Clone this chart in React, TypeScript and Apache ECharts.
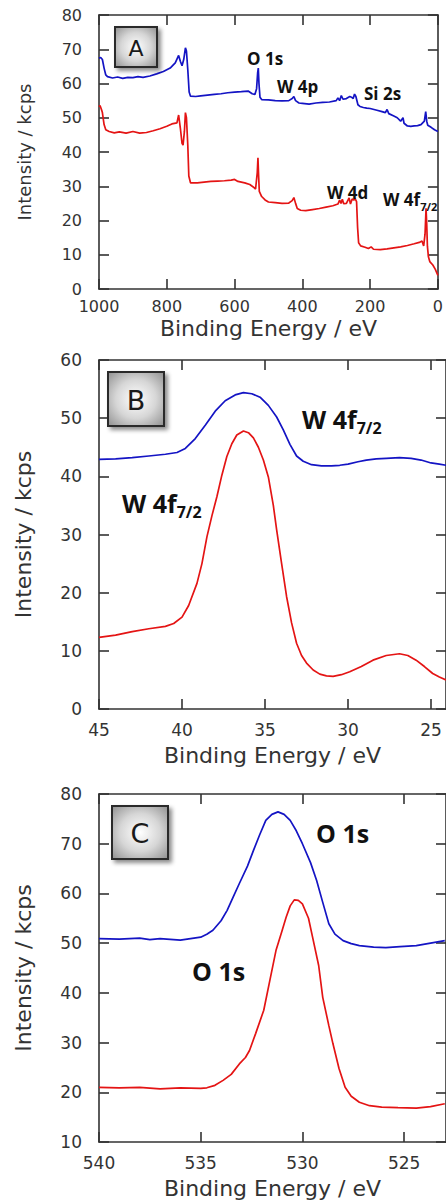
import React, { useEffect, useRef } from "react";
import * as echarts from "echarts";

// ---------- Panel A: survey spectra ----------
const surveyBlueE = [1000, 995, 990, 985, 980, 975, 960, 945, 930, 915, 900, 885, 870, 850, 830, 810, 790, 775, 765, 760, 755, 750, 745, 742, 738, 734, 730, 715, 700, 680, 660, 640, 620, 600, 580, 560, 548, 540, 535, 532, 530, 528, 525, 520, 500, 480, 460, 440, 430, 425, 420, 410, 400, 380, 360, 340, 320, 300, 295, 290, 285, 280, 270, 260, 255, 250, 246, 242, 236, 230, 220, 210, 200, 180, 165, 155, 150, 145, 130, 120, 110, 103, 100, 90, 80, 70, 60, 50, 40, 36, 33, 30, 20, 10, 0];
const surveyBlueI = [67.4, 67.6, 67.0, 64.5, 62.5, 62.0, 61.6, 61.9, 61.5, 61.8, 61.7, 62.0, 61.8, 62.2, 62.8, 63.5, 64.5, 66.0, 68.2, 66.5, 65.2, 67.0, 70.4, 69.5, 64.0, 57.5, 56.3, 56.2, 56.4, 56.6, 56.8, 57.0, 57.3, 57.5, 57.6, 57.8, 57.0, 56.8, 58.5, 63.0, 64.5, 60.0, 56.0, 55.3, 55.2, 55.0, 54.9, 55.0, 55.6, 56.2, 55.0, 54.3, 54.2, 54.0, 54.3, 54.5, 54.6, 55.0, 55.8, 55.0, 56.5, 55.4, 55.6, 56.2, 56.0, 55.6, 56.9, 56.2, 53.8, 53.3, 53.0, 52.8, 52.7, 52.2, 51.8, 51.5, 52.4, 51.2, 50.5, 50.0, 49.0, 50.0, 48.4, 47.6, 47.5, 47.6, 47.7, 48.0, 49.0, 51.8, 49.0, 47.8, 47.2, 46.5, 46.0];
const surveyRedE = [1000, 997, 993, 990, 985, 980, 970, 955, 940, 920, 900, 880, 860, 840, 820, 800, 785, 770, 765, 760, 755, 752, 748, 745, 742, 738, 735, 730, 710, 690, 670, 650, 630, 610, 600, 590, 570, 555, 545, 538, 533, 531, 529, 527, 520, 510, 500, 480, 460, 440, 430, 425, 420, 415, 405, 390, 370, 350, 330, 310, 295, 290, 286, 282, 278, 270, 262, 258, 253, 248, 244, 240, 237, 234, 228, 215, 205, 197, 190, 170, 150, 130, 110, 90, 70, 55, 47, 42, 38, 35, 33, 31, 28, 24, 15, 8, 0];
const surveyRedI = [53.2, 53.6, 52.5, 51.5, 48.0, 46.5, 46.0, 45.6, 45.9, 45.5, 46.0, 45.5, 45.7, 46.2, 46.8, 47.5, 48.2, 48.5, 50.8, 47.0, 42.5, 42.0, 46.0, 51.5, 50.0, 42.0, 33.0, 31.0, 31.0, 31.2, 31.4, 31.5, 31.6, 31.8, 32.0, 31.4, 31.0, 30.5, 29.8, 29.2, 34.0, 38.3, 33.0, 28.5, 27.0, 26.0, 25.4, 25.2, 25.0, 25.1, 25.8, 26.7, 25.0, 23.5, 23.0, 22.9, 23.2, 23.5, 23.9, 24.3, 24.8, 26.0, 25.0, 26.2, 24.9, 25.0, 26.6, 24.8, 26.3, 26.0, 26.3, 25.5, 18.0, 13.5, 12.6, 12.2, 11.8, 12.3, 11.6, 11.5, 11.7, 12.0, 12.3, 12.7, 13.2, 13.6, 14.0, 12.6, 16.0, 23.6, 19.0, 12.5, 9.4, 8.0, 7.0, 5.8, 4.0];

// ---------- Panel B: W 4f ----------
const wBlueE = [45, 44, 43, 42, 41, 40.3, 39.8, 39.2, 38.6, 38.0, 37.4, 36.8, 36.3, 35.8, 35.3, 34.8, 34.3, 33.9, 33.5, 33.1, 32.7, 32.2, 31.6, 31.0, 30.5, 30.0, 29.4, 28.9, 28.3, 27.7, 26.9, 26.2, 25.6, 25.0, 24.5, 24.1];
const wBlueI = [42.9, 43.0, 43.2, 43.5, 43.8, 44.1, 44.8, 46.5, 48.8, 51.2, 53.0, 54.0, 54.4, 54.2, 53.6, 52.2, 50.2, 48.0, 45.5, 43.5, 42.6, 42.0, 41.8, 41.8, 41.9, 42.1, 42.5, 42.8, 43.0, 43.1, 43.2, 43.1, 42.8, 42.3, 42.1, 41.9];
const wRedE = [45, 44, 43, 42, 41, 40.5, 40.0, 39.6, 39.1, 38.8, 38.5, 38.2, 37.9, 37.6, 37.3, 37.0, 36.7, 36.3, 36.0, 35.7, 35.4, 35.1, 34.8, 34.5, 34.3, 34.0, 33.7, 33.4, 33.1, 32.8, 32.5, 32.1, 31.7, 31.3, 30.9, 30.4, 29.9, 29.2, 28.5, 27.7, 26.9, 26.4, 25.9, 25.4, 24.9, 24.5, 24.1];
const wRedI = [12.3, 12.7, 13.3, 13.8, 14.2, 14.7, 15.8, 17.8, 21.6, 25.0, 29.6, 33.2, 36.5, 40.2, 43.4, 45.6, 47.1, 47.8, 47.5, 46.6, 45.0, 42.8, 39.9, 35.0, 30.8, 25.0, 19.3, 14.8, 11.3, 9.2, 7.9, 6.7, 6.0, 5.7, 5.6, 5.9, 6.4, 7.3, 8.4, 9.2, 9.5, 9.2, 8.4, 7.3, 6.1, 5.5, 5.0];

// ---------- Panel C: O 1s ----------
const oBlueE = [540, 539, 538, 537.5, 537, 536, 535, 534.7, 534.4, 534.0, 533.7, 533.4, 533.1, 532.7, 532.4, 532.1, 531.8, 531.5, 531.2, 530.9, 530.6, 530.3, 530.0, 529.6, 529.3, 529.0, 528.7, 528.4, 528.0, 527.6, 527.2, 526.5, 525.9, 525.2, 524.4, 523.7, 523.0];
const oBlueI = [50.9, 50.8, 51.0, 50.7, 50.9, 50.6, 51.2, 51.8, 52.6, 54.5, 56.6, 59.3, 62.0, 65.5, 68.7, 71.8, 74.7, 75.9, 76.4, 75.9, 74.7, 72.6, 70.0, 66.2, 62.6, 58.2, 53.9, 51.8, 50.5, 49.9, 49.5, 49.2, 49.1, 49.3, 49.5, 50.0, 50.5];
const oRedE = [540, 539, 538, 537, 536, 535, 534.7, 534.3, 533.9, 533.5, 533.1, 532.8, 532.6, 532.3, 531.9, 531.6, 531.3, 531.0, 530.8, 530.6, 530.4, 530.2, 530.0, 529.7, 529.5, 529.2, 529.0, 528.7, 528.5, 528.2, 527.9, 527.6, 527.2, 526.7, 526.1, 525.3, 524.4, 523.7, 523.0];
const oRedI = [21.0, 20.9, 21.0, 20.7, 20.9, 20.8, 20.9, 21.4, 22.4, 23.6, 25.7, 27.0, 28.4, 31.8, 36.5, 42.5, 48.5, 52.5, 55.2, 57.5, 58.7, 58.6, 57.9, 55.0, 51.2, 45.5, 39.1, 33.4, 29.8, 24.8, 21.0, 19.2, 18.0, 17.3, 17.0, 16.9, 16.8, 17.1, 17.7];

const xTicksB = [25, 30, 35, 40, 45];
const xTicksC = [525, 530, 535, 540];

const BLUE = "#1414c4";
const RED = "#e41414";
const AXIS = "#333";
const TICKFONT = "DejaVu Sans";
const LABELFONT = "'Open Sans', 'Noto Sans', sans-serif";

const zip = (xs: number[], ys: number[]) => xs.map((x, i) => [x, ys[i]]);

function App() {
  const ref = useRef<HTMLDivElement>(null);
  useEffect(() => {
    if (!ref.current) return;
    const chart = echarts.init(ref.current, null, { renderer: "svg" });

    const lineStyleAxis = { lineStyle: { color: AXIS, width: 1.6 } };
    const tickIn = { inside: true, length: 10, lineStyle: { color: AXIS, width: 1.6 } };
    const plain = (v: number) => String(v);

    const xMain = (grid: number, min: number, max: number, extra: any, fs: number, margin: number, nameGap: number) => ({
      type: "value", gridIndex: grid, position: "bottom", inverse: true, min, max,
      axisLine: { show: true, onZero: false, ...lineStyleAxis },
      axisTick: { ...tickIn, ...(extra.ticks ? { customValues: extra.ticks } : {}) },
      axisLabel: { color: AXIS, fontSize: fs, fontFamily: TICKFONT, margin, formatter: plain, ...(extra.ticks ? { customValues: extra.ticks } : {}) },
      ...(extra.interval ? { interval: extra.interval } : {}),
      splitLine: { show: false },
      name: "Binding Energy / eV", nameLocation: "middle", nameGap,
      nameTextStyle: { color: AXIS, fontSize: 22, fontFamily: TICKFONT },
    });
    const xTop = (grid: number, min: number, max: number, extra: any) => ({
      type: "value", gridIndex: grid, position: "top", inverse: true, min, max,
      axisLine: { show: true, onZero: false, ...lineStyleAxis },
      axisTick: { ...tickIn, ...(extra.ticks ? { customValues: extra.ticks } : {}) },
      axisLabel: { show: false, ...(extra.ticks ? { customValues: extra.ticks } : {}) },
      ...(extra.interval ? { interval: extra.interval } : {}),
      splitLine: { show: false },
    });
    const yMain = (grid: number, min: number, max: number, fs: number, nameFs: number, nameGap: number) => ({
      type: "value", gridIndex: grid, position: "left", min, max, interval: 10,
      axisLine: { show: true, onZero: false, ...lineStyleAxis },
      axisTick: tickIn,
      axisLabel: { color: AXIS, fontSize: fs, fontFamily: TICKFONT, margin: 17, formatter: plain },
      splitLine: { show: false },
      name: "Intensity / kcps", nameLocation: "middle", nameGap, nameRotate: 90,
      nameTextStyle: { color: AXIS, fontSize: nameFs, fontFamily: TICKFONT },
    });
    const yRight = (grid: number, min: number, max: number) => ({
      type: "value", gridIndex: grid, position: "right", min, max, interval: 10,
      axisLine: { show: true, onZero: false, ...lineStyleAxis },
      axisTick: tickIn,
      axisLabel: { show: false },
      splitLine: { show: false },
    });

    const line = (data: number[][], color: string, xi: number, yi: number) => ({
      type: "line", data, xAxisIndex: xi, yAxisIndex: yi, showSymbol: false, symbol: "none",
      lineStyle: { color, width: 1.7 }, itemStyle: { color }, z: 3,
    });

    const boxFill = new echarts.graphic.RadialGradient(0.5, 0.5, 0.72, [
      { offset: 0, color: "#ffffff" },
      { offset: 0.5, color: "#d6d6d6" },
      { offset: 1, color: "#8c8c8c" },
    ]);
    const box = (x: number, y: number, w: number, h: number, letter: string, fs: number) => ({
      type: "group",
      children: [
        {
          type: "rect", shape: { x, y, width: w, height: h },
          style: { fill: boxFill, stroke: "#2a2a2a", lineWidth: 2, shadowBlur: 4, shadowOffsetX: 3, shadowOffsetY: 3, shadowColor: "rgba(0,0,0,0.45)" },
          z: 10,
        },
        {
          type: "text", x: x + w / 2, y: y + h / 2 + 1, z: 11,
          style: { text: letter, fill: "#1a1a1a", fontSize: fs, fontFamily: TICKFONT, align: "center", verticalAlign: "middle" },
        },
      ],
    });
    const lbl = (x: number, y: number, text: string, fs: number) => ({
      type: "text", x, y, z: 12,
      style: { text, fill: "#111", fontSize: fs, fontWeight: "bold", fontFamily: LABELFONT, align: "left", verticalAlign: "middle" },
    });
    // label with a subscript that follows the main text directly
    const subLbl = (x: number, y: number, main: string, sub: string, fs: number, sfs: number, lh: number) => ({
      type: "text", x, y, z: 12,
      style: {
        text: `{m|${main}}{s|${sub}}`,
        align: "left", verticalAlign: "middle",
        rich: {
          m: { fontSize: fs, fontWeight: "bold", fontFamily: LABELFONT, fill: "#111", lineHeight: lh, verticalAlign: "middle" },
          s: { fontSize: sfs, fontWeight: "bold", fontFamily: LABELFONT, fill: "#111", lineHeight: sfs, verticalAlign: "bottom" },
        },
      },
    });

    chart.setOption({
      animation: false,
      backgroundColor: "#ffffff",
      grid: [
        { left: 99, top: 15, width: 342, height: 274 },
        { left: 99, top: 360, width: 347, height: 349 },
        { left: 99, top: 794, width: 347, height: 348 },
      ],
      xAxis: [
        xMain(0, 0, 1000, { interval: 200 }, 16, 9, 28),
        xTop(0, 0, 1000, { interval: 200 }),
        xMain(1, 24.1, 45, { ticks: xTicksB }, 17, 12, 35),
        xTop(1, 24.1, 45, { ticks: xTicksB }),
        xMain(2, 522.94, 540, { ticks: xTicksC }, 17, 12, 35),
        xTop(2, 522.94, 540, { ticks: xTicksC }),
      ],
      yAxis: [
        yMain(0, 0, 80, 16, 18, 66),
        yRight(0, 0, 80),
        yMain(1, 0, 60, 17, 22, 65),
        yRight(1, 0, 60),
        yMain(2, 10, 80, 17, 22, 65),
        yRight(2, 10, 80),
      ],
      series: [
        line(zip(surveyBlueE, surveyBlueI), BLUE, 0, 0),
        line(zip(surveyRedE, surveyRedI), RED, 0, 0),
        line(zip(wBlueE, wBlueI), BLUE, 2, 2),
        line(zip(wRedE, wRedI), RED, 2, 2),
        line(zip(oBlueE, oBlueI), BLUE, 4, 4),
        line(zip(oRedE, oRedI), RED, 4, 4),
      ],
      graphic: [
        box(115, 27, 42, 40, "A", 22),
        box(108, 372, 56, 54, "B", 27),
        box(112, 806, 56, 53, "C", 27),
        // Panel A labels
        lbl(247, 58, "O 1s", 17),
        lbl(277, 86, "W 4p", 17),
        lbl(364, 93, "Si 2s", 17),
        lbl(327, 192, "W 4d", 17),
        subLbl(383, 199, "W 4f", "7/2", 17, 11, 25),
        // Panel B labels
        subLbl(302, 419, "W 4f", "7/2", 25, 16, 33),
        subLbl(122, 503, "W 4f", "7/2", 25, 16, 33),
        // Panel C labels
        lbl(316, 833, "O 1s", 25),
        lbl(192, 971, "O 1s", 25),
      ],
    });
    return () => chart.dispose();
  }, []);
  return <div ref={ref} style={{ position: "absolute", left: 0, top: 0, width: 446, height: 1204 }} />;
}

export default App;
